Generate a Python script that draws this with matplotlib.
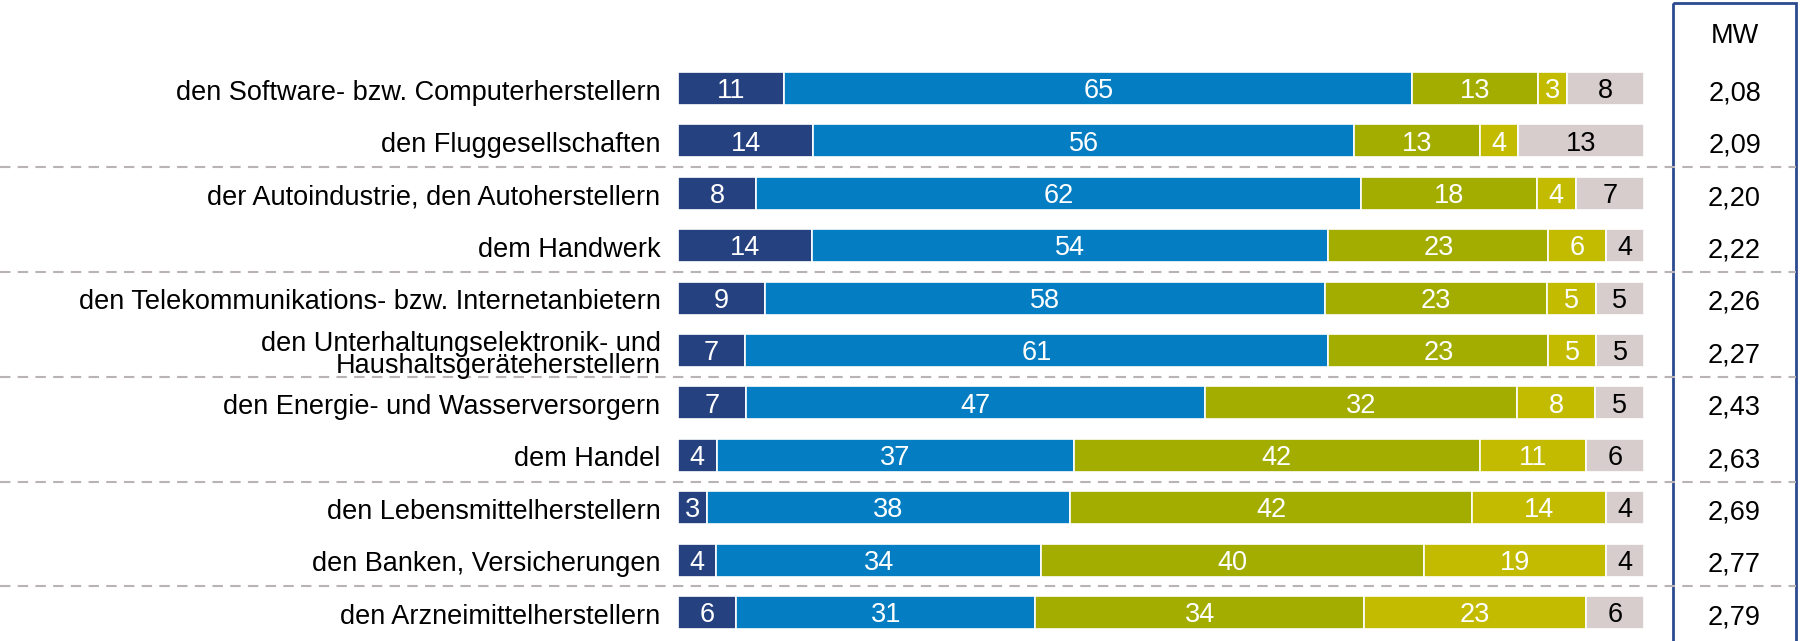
import matplotlib.pyplot as plt
import numpy as np

plt.rcParams['font.family'] = ['Liberation Sans', 'DejaVu Sans']

categories = [
    "den Software- bzw. Computerherstellern",
    "den Fluggesellschaften",
    "der Autoindustrie, den Autoherstellern",
    "dem Handwerk",
    "den Telekommunikations- bzw. Internetanbietern",
    "den Unterhaltungselektronik- und\nHaushaltsgeräteherstellern",
    "den Energie- und Wasserversorgern",
    "dem Handel",
    "den Lebensmittelherstellern",
    "den Banken, Versicherungen",
    "den Arzneimittelherstellern",
]
s1 = [11, 14, 8, 14, 9, 7, 7, 4, 3, 4, 6]
s2 = [65, 56, 62, 54, 58, 61, 47, 37, 38, 34, 31]
s3 = [13, 13, 18, 23, 23, 23, 32, 42, 42, 40, 34]
s4 = [3, 4, 4, 6, 5, 5, 8, 11, 14, 19, 23]
s5 = [8, 13, 7, 4, 5, 5, 5, 6, 4, 4, 6]
mw = ["2,08", "2,09", "2,20", "2,22", "2,26", "2,27", "2,43", "2,63", "2,69", "2,77", "2,79"]

colors = ['#26417f', '#047dc2', '#a3ad00', '#c3bb00', '#d6cdcc']
text_colors = ['white', 'white', 'white', 'white', 'black']

series = np.array([s1, s2, s3, s4, s5], dtype=float)
shares = series / series.sum(axis=0) * 100  # each bar fills 100 %

W, H = 1803, 641
fig = plt.figure(figsize=(W / 100, H / 100), dpi=100)
ax = fig.add_axes([0, 0, 1, 1])

# pixel layout -> data units
x0_px, px_per_unit = 678, 9.66
y0_px, row_px = 88.5, 52.4
ax.set_xlim(-x0_px / px_per_unit, (W - x0_px) / px_per_unit)
ax.set_ylim((H - y0_px) / row_px, -y0_px / row_px)
ax.axis('off')

fs = 19.5
y = np.arange(len(categories))
left = np.zeros(len(categories))
for k in range(5):
    ax.barh(y, shares[k], left=left, height=0.63, color=colors[k],
            edgecolor='white', linewidth=1.2)
    for i in range(len(categories)):
        ax.text(left[i] + shares[k][i] / 2, y[i] + 0.05, str(int(series[k][i])),
                ha='center', va='center', fontsize=fs, color=text_colors[k])
    left += shares[k]

for i, lab in enumerate(categories):
    ax.text(-1.8, y[i] + 0.08, lab, ha='right', va='center', fontsize=fs,
            color='black', linespacing=0.8)

# separators
xmax_box = (1796 - x0_px) / px_per_unit
for yy in [1.5, 3.5, 5.5, 7.5, 9.5]:
    ax.plot([ax.get_xlim()[0], xmax_box], [yy, yy], color='#bab3b3',
            lw=1.5, ls=(0, (5, 3.5)))

# MW column
bx0 = (1673 - x0_px) / px_per_unit
by0 = (3 - y0_px) / row_px
ax.add_patch(plt.Rectangle((bx0, by0), xmax_box - bx0, 20, fill=False,
                           edgecolor='#2b4a8f', lw=2.0, clip_on=True))
mx = (bx0 + xmax_box) / 2
ax.text(mx, (36 - y0_px) / row_px, "MW", ha='center', va='center', fontsize=fs)
for i, v in enumerate(mw):
    ax.text(mx, y[i] + 0.09, v, ha='center', va='center', fontsize=fs)

fig.savefig('out.png', dpi=100)
